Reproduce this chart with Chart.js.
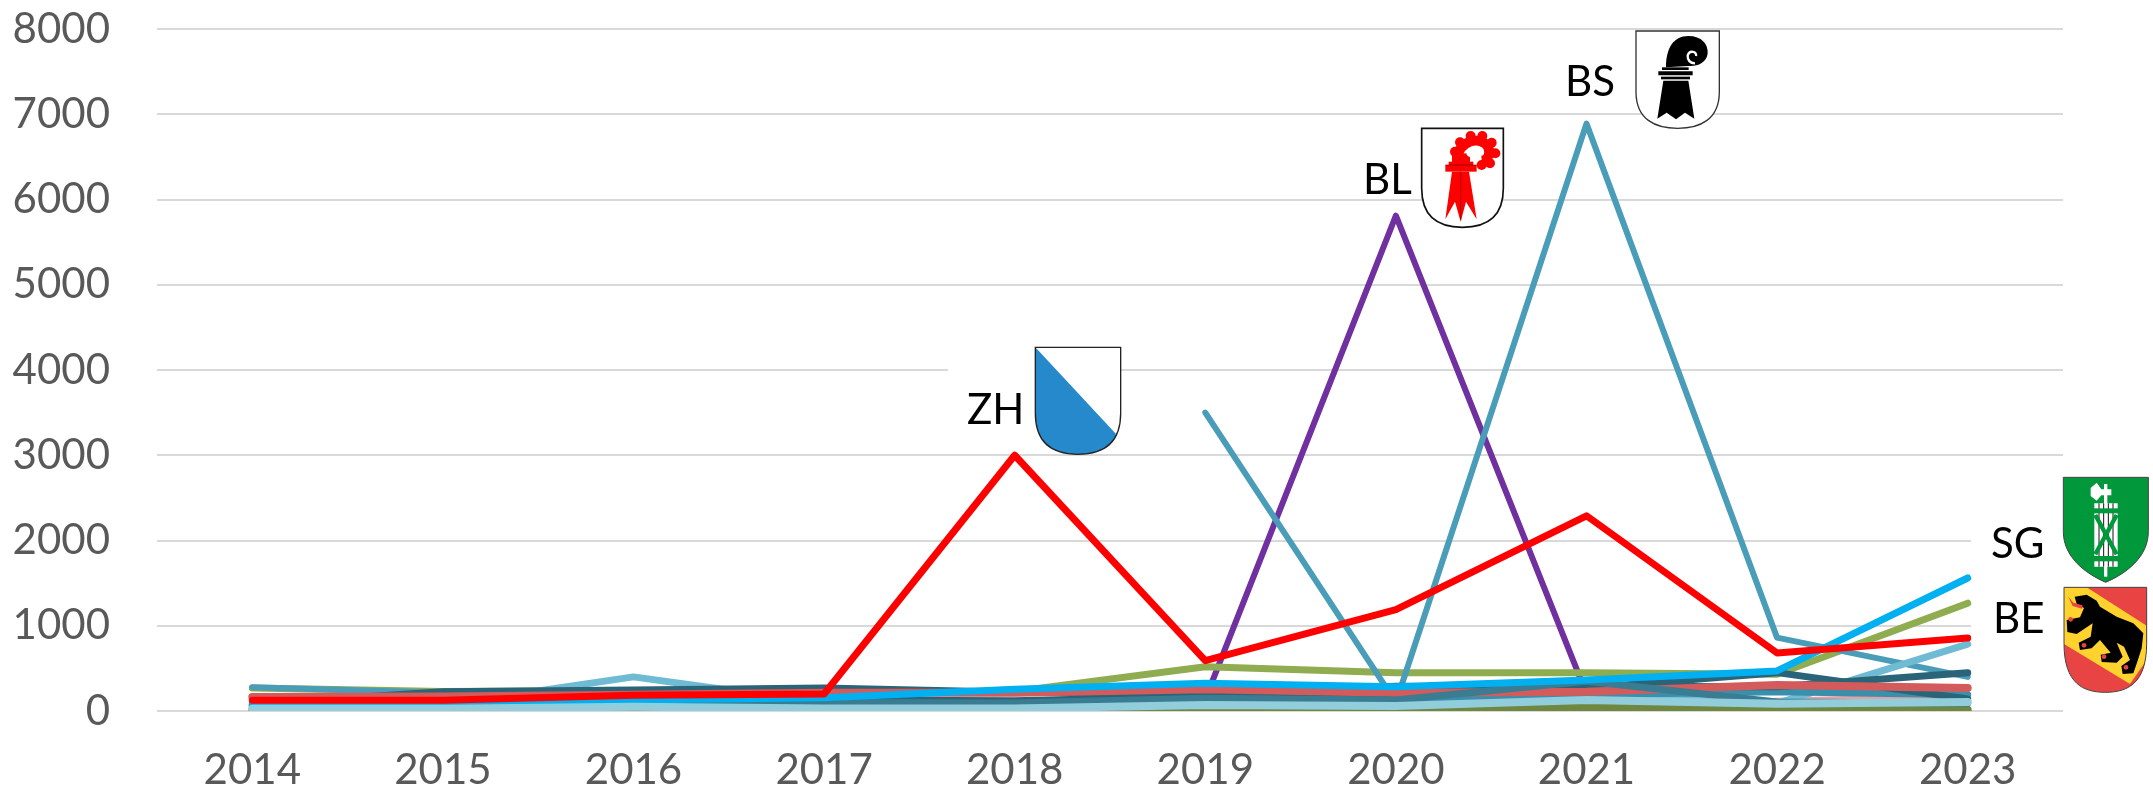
<!DOCTYPE html>
<html>
<head>
<meta charset="utf-8">
<script src="https://cdn.jsdelivr.net/npm/chart.js@4"></script>
<style>
  html, body { margin: 0; padding: 0; background: #fff; }
  canvas { display: block; }
</style>
</head>
<body>
<canvas id="myChart" width="2153" height="791"></canvas>
<script>
var years = ['2014', '2015', '2016', '2017', '2018', '2019', '2020', '2021', '2022', '2023'];

// values, the bottom bundle is estimated
var zurich     = [125, 125, 185, 200, 3000, 590, 1190, 2290, 680, 855];
var paleBlue   = [25, 25, 50, 30, 30, 70, 60, 130, 85, 105];
var stGallen   = [100, 110, 130, 155, 255, 325, 285, 365, 470, 1560];
var midTeal    = [60, 70, 100, 100, 95, 150, 130, 350, 105, 90];
var coral      = [165, 170, 190, 215, 215, 255, 215, 225, 305, 270];
var oliveDark  = [5, 10, 30, 5, 5, 15, 15, 50, 20, 15];
var darkTealA  = [80, 225, 245, 270, 220, 200, 290, 270, 450, 140];
var darkTealB  = [70, 90, 110, 130, 120, 170, 170, 290, 285, 450];
var steelBlue  = [50, 60, 80, 70, 80, 110, 100, 190, 225, 190];
var bern       = [270, 230, 240, 230, 230, 520, 450, 450, 430, 1265];
var skyBlue    = [40, 70, 400, 90, 50, 90, 120, 180, 90, 785];
var baselStadt = [280, 215, 230, 180, null, 3500, 100, 6890, 860, 400];
var baselLand  = [60, 60, 70, 70, 90, 140, 5810, 200, 100, 90];
var paleCoral  = [5, 5, 10, 10, 10, 20, 20, 5, 120, 180];
var paleGreen  = [20, 30, 40, 40, 50, 60, 60, 190, 110, 130];

var yTicks = [0, 1000, 2000, 3000, 4000, 5000, 6000, 7000, 8000];

function line(values, color, width) {
  return {
    data: values,
    borderColor: color,
    backgroundColor: color,
    borderWidth: width,
    borderCapStyle: 'round',
    borderJoinStyle: 'round',
    pointRadius: 0,
    tension: 0,
    spanGaps: false,
    clip: 0
  };
}

// shield outlines, coordinates are in the 3x crop of each crest
function roundShield(ctx, l, t, r, b, side) {
  var mid = (l + r) / 2;
  ctx.beginPath();
  ctx.moveTo(l, t);
  ctx.lineTo(r, t);
  ctx.lineTo(r, side);
  ctx.bezierCurveTo(r, b - 25, mid + 65, b, mid, b);
  ctx.bezierCurveTo(mid - 65, b, l, b - 25, l, side);
  ctx.closePath();
}

function crest(ctx, x, y, paint) {
  ctx.save();
  ctx.translate(x, y);
  ctx.scale(1 / 3, 1 / 3);
  paint();
  ctx.restore();
}

function poly(ctx, pts, fill) {
  ctx.beginPath();
  ctx.moveTo(pts[0], pts[1]);
  for (var i = 2; i < pts.length; i += 2) ctx.lineTo(pts[i], pts[i + 1]);
  ctx.closePath();
  ctx.fillStyle = fill;
  ctx.fill();
}

function drawZH(ctx) {
  crest(ctx, 930, 330, function () {
    roundShield(ctx, 316, 52, 572, 373, 250);
    ctx.fillStyle = '#fff';
    ctx.fill();
    ctx.save();
    ctx.clip();
    poly(ctx, [316, 52, 316, 373, 572, 373, 556, 310], '#2589CC');
    ctx.restore();
    roundShield(ctx, 316, 52, 572, 373, 250);
    ctx.strokeStyle = '#222';
    ctx.lineWidth = 4;
    ctx.stroke();
  });
}

function drawBL(ctx) {
  crest(ctx, 1340, 110, function () {
    roundShield(ctx, 245, 55, 490, 352, 235);
    ctx.fillStyle = '#fff';
    ctx.fill();
    ctx.strokeStyle = '#111';
    ctx.lineWidth = 5;
    ctx.stroke();
    var red = '#FF0000';
    ctx.fillStyle = red;
    var knobs = [[345, 125], [360, 97], [392, 78], [427, 78], [455, 98], [466, 130], [450, 160], [425, 165]];
    knobs.forEach(function (k) {
      ctx.beginPath();
      ctx.arc(k[0], k[1], 15, 0, Math.PI * 2);
      ctx.fill();
    });
    ctx.strokeStyle = red;
    ctx.lineWidth = 30;
    ctx.lineCap = 'butt';
    ctx.beginPath();
    ctx.moveTo(352, 160);
    ctx.bezierCurveTo(347, 100, 400, 85, 425, 95);
    ctx.bezierCurveTo(455, 105, 455, 150, 425, 152);
    ctx.stroke();
    // the stem below the hook is as wide as the foot
    poly(ctx, [336, 130, 390, 130, 390, 160, 336, 160], red);
    ctx.fillStyle = '#fff';
    ctx.beginPath();
    ctx.arc(392, 128, 13, 0, Math.PI * 2);
    ctx.fill();
    poly(ctx, [316, 165, 410, 165, 410, 185, 316, 185], red);
    poly(ctx, [326, 155, 400, 155, 400, 165, 326, 165], red);
    poly(ctx, [336, 185, 316, 328, 345, 275, 362, 335, 378, 275, 410, 328, 387, 185], red);
    ctx.strokeStyle = '#7a0000';
    ctx.lineWidth = 2;
    ctx.beginPath();
    ctx.moveTo(362, 185);
    ctx.lineTo(362, 330);
    ctx.moveTo(316, 165);
    ctx.lineTo(410, 165);
    ctx.stroke();
  });
}

function drawBS(ctx) {
  crest(ctx, 1600, 10, function () {
    roundShield(ctx, 108, 63, 358, 355, 245);
    ctx.fillStyle = '#fff';
    ctx.fill();
    ctx.strokeStyle = '#333';
    ctx.lineWidth = 4;
    ctx.stroke();
    ctx.fillStyle = '#000';
    ctx.beginPath();
    ctx.moveTo(198, 172);
    ctx.bezierCurveTo(198, 115, 220, 78, 265, 78);
    ctx.bezierCurveTo(305, 78, 325, 102, 323, 130);
    ctx.bezierCurveTo(320, 160, 290, 170, 266, 168);
    ctx.closePath();
    ctx.fill();
    poly(ctx, [186, 172, 266, 172, 266, 180, 186, 180], '#000');
    poly(ctx, [175, 184, 278, 184, 278, 196, 175, 196], '#000');
    poly(ctx, [183, 200, 270, 200, 270, 208, 183, 208], '#000');
    poly(ctx, [190, 212, 172, 326, 200, 308, 228, 328, 255, 308, 283, 326, 265, 212], '#000');
    ctx.strokeStyle = '#fff';
    ctx.lineWidth = 7;
    ctx.beginPath();
    ctx.moveTo(288, 138);
    ctx.bezierCurveTo(292, 125, 268, 118, 263, 137);
    ctx.bezierCurveTo(262, 150, 270, 160, 285, 160);
    ctx.stroke();
  });
}

function drawSG(ctx) {
  crest(ctx, 1900, 460, function () {
    ctx.beginPath();
    ctx.moveTo(490, 52);
    ctx.lineTo(745, 52);
    ctx.lineTo(745, 215);
    ctx.bezierCurveTo(745, 290, 680, 340, 617, 367);
    ctx.bezierCurveTo(555, 340, 490, 290, 490, 215);
    ctx.closePath();
    ctx.fillStyle = '#00983A';
    ctx.fill();
    ctx.strokeStyle = '#444';
    ctx.lineWidth = 3;
    ctx.stroke();
    // rod and axe
    poly(ctx, [612, 72, 622, 72, 622, 350, 612, 350], '#fff');
    poly(ctx, [572, 84, 590, 68, 604, 88, 634, 88, 634, 106, 604, 106, 590, 122, 572, 108], '#fff');
    // bundle
    poly(ctx, [583, 130, 653, 130, 653, 320, 583, 320], '#fff');
    ctx.strokeStyle = '#111';
    ctx.lineWidth = 3;
    [597, 611, 625, 639].forEach(function (sx) {
      ctx.beginPath();
      ctx.moveTo(sx, 130);
      ctx.lineTo(sx, 320);
      ctx.stroke();
    });
    poly(ctx, [579, 145, 657, 145, 657, 160, 579, 160], '#00983A');
    poly(ctx, [579, 288, 657, 288, 657, 304, 579, 304], '#00983A');
    ctx.strokeStyle = '#00983A';
    ctx.lineWidth = 13;
    ctx.beginPath();
    ctx.moveTo(586, 165);
    ctx.lineTo(650, 283);
    ctx.moveTo(650, 165);
    ctx.lineTo(586, 283);
    ctx.stroke();
  });
}

function drawBE(ctx) {
  crest(ctx, 1900, 460, function () {
    roundShield(ctx, 492, 382, 740, 697, 550);
    ctx.fillStyle = '#E84444';
    ctx.fill();
    ctx.save();
    ctx.clip();
    poly(ctx, [492, 382, 560, 382, 740, 497, 740, 640, 690, 672, 492, 552], '#FFD22E');
    poly(ctx, [740, 600, 740, 697, 690, 697, 690, 672], '#E84444');
    ctx.restore();
    // bear
    poly(ctx, [524, 410, 560, 404, 590, 422, 600, 440, 650, 470, 700, 490, 730, 520, 725, 565, 712, 605,
      700, 640, 668, 642, 664, 618, 690, 600, 672, 560, 650, 548, 668, 590, 650, 608, 605, 606, 602, 584,
      632, 578, 600, 540, 575, 565, 540, 570, 536, 548, 572, 530, 578, 490, 530, 522, 502, 516, 500, 480,
      540, 472, 552, 444, 530, 432], '#000');
    poly(ctx, [505, 410, 520, 428, 548, 436, 546, 446, 518, 438], '#E84444');
    ctx.fillStyle = '#E84444';
    [[512, 478], [552, 556], [612, 590], [678, 622]].forEach(function (c) {
      ctx.beginPath();
      ctx.arc(c[0], c[1], 7, 0, Math.PI * 2);
      ctx.fill();
    });
    roundShield(ctx, 492, 382, 740, 697, 550);
    ctx.strokeStyle = '#444';
    ctx.lineWidth = 3;
    ctx.stroke();
  });
}

var crests = {
  id: 'crests',
  beforeDatasetsDraw: function (chart) {
    // white boxes behind the labels hide parts of the gridlines
    var ctx = chart.ctx;
    ctx.save();
    ctx.fillStyle = '#fff';
    ctx.fillRect(948, 350, 90, 90);
    ctx.fillRect(1971, 470, 100, 230);
    ctx.restore();
  },
  afterDraw: function (chart) {
    var ctx = chart.ctx;
    drawZH(ctx);
    drawBL(ctx);
    drawBS(ctx);
    drawBE(ctx);
    drawSG(ctx);
    ctx.save();
    ctx.fillStyle = '#000';
    ctx.font = '42px Lato';
    ctx.textBaseline = 'alphabetic';
    ctx.fillText('ZH', 967, 424);
    ctx.fillText('BL', 1363, 194);
    ctx.fillText('BS', 1565, 96);
    ctx.fillText('SG', 1991, 558);
    ctx.fillText('BE', 1993, 633);
    ctx.restore();
  }
};

var ctx = document.getElementById('myChart').getContext('2d');
var myChart = new Chart(ctx, {
  type: 'line',
  data: {
    labels: years,
    // first dataset ends up on top
    datasets: [
      line(zurich, '#FF0000', 7),
      line(paleBlue, '#92CDDC', 8),
      line(stGallen, '#00B0F0', 7),
      line(midTeal, '#3A7D92', 7),
      line(coral, '#D45B5B', 8),
      line(oliveDark, '#6F873F', 8),
      line(darkTealA, '#2A6478', 7),
      line(darkTealB, '#2A6478', 7),
      line(steelBlue, '#3A8FAD', 7),
      line(skyBlue, '#70BBD4', 7),
      line(baselStadt, '#4A9DB8', 6),
      line(bern, '#8FAD50', 7),
      line(baselLand, '#7030A0', 6),
      line(paleCoral, '#E6A0A0', 6),
      line(paleGreen, '#C3D69B', 6)
    ]
  },
  options: {
    responsive: false,
    animation: false,
    layout: { autoPadding: false, padding: { top: 29, right: 90, left: 0, bottom: 0 } },
    plugins: {
      legend: { display: false },
      tooltip: { enabled: false }
    },
    scales: {
      x: {
        offset: true,
        afterFit: function (axis) {
          axis.height = 80;
          axis.paddingLeft = 0;
          axis.paddingRight = 0;
        },
        grid: { display: false, drawTicks: false },
        border: { display: false },
        ticks: {
          color: '#595959',
          font: { family: 'Lato', size: 42 },
          padding: 34,
          maxRotation: 0
        }
      },
      y: {
        min: yTicks[0],
        max: yTicks[yTicks.length - 1],
        afterFit: function (axis) {
          axis.width = 157;
          axis.paddingTop = 0;
          axis.paddingBottom = 0;
        },
        afterBuildTicks: function (axis) {
          axis.ticks = yTicks.map(function (v) { return { value: v }; });
        },
        grid: { color: '#D9D9D9', lineWidth: 2, drawTicks: false },
        border: { display: false },
        ticks: {
          color: '#595959',
          font: { family: 'Lato', size: 42 },
          padding: 47,
          callback: function (value) { return String(value); }
        }
      }
    }
  },
  plugins: [crests]
});
</script>
</body>
</html>
